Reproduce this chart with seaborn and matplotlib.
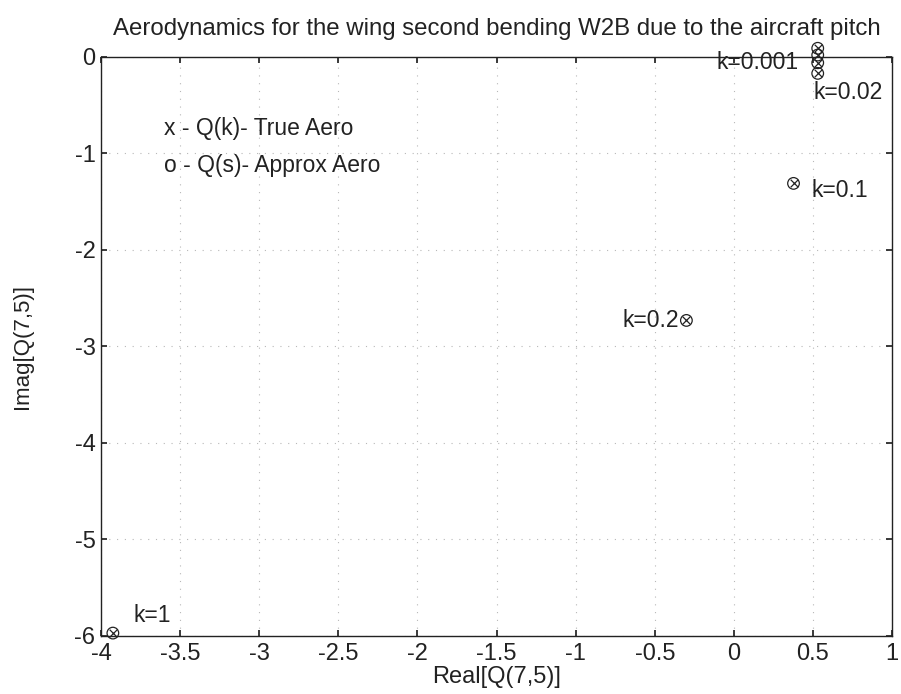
import matplotlib
matplotlib.use("Agg")
import matplotlib.pyplot as plt
import seaborn as sns

# reduced frequencies and Q(7,5) values
k_values = [0.001, 0.01, 0.02, 0.05, 0.1, 0.2, 1.0]
real_true = [0.53, 0.53, 0.53, 0.53, 0.377, -0.30, -3.925]
imag_true = [0.09, 0.02, -0.06, -0.17, -1.31, -2.73, -5.97]
real_approx = [0.53, 0.53, 0.53, 0.53, 0.377, -0.30, -3.925]
imag_approx = [0.09, 0.02, -0.06, -0.17, -1.31, -2.73, -5.97]

# which points get a text label, and offsets (points)
label_idx = [0, 3, 4, 5, 6]
label_text = ["k=0.001", "k=0.02", "k=0.1", "k=0.2", "k=1"]
label_off = [(-14, -10), (-3, -14), (13, -5), (-5, 0), (15, 13)]
label_ha = ["right", "left", "left", "right", "left"]

x_ticks = [-4, -3.5, -3, -2.5, -2, -1.5, -1, -0.5, 0, 0.5, 1]
y_ticks = [0, -1, -2, -3, -4, -5, -6]

sns.set_theme(style="white")
plt.rcParams["font.family"] = ["Liberation Sans", "DejaVu Sans"]

fs = 16.5
fig = plt.figure(figsize=(9.01, 6.94), dpi=100)
ax = fig.add_axes([0.1121, 0.0836, 0.8780, 0.8343])

ink = "#222222"
sns.scatterplot(x=real_true, y=imag_true, ax=ax, marker="x", s=30,
                color=ink, linewidth=0.9, zorder=3, clip_on=False)
sns.scatterplot(x=real_approx, y=imag_approx, ax=ax, marker="o", s=70,
                facecolors="none", edgecolor=ink, linewidth=0.9, zorder=3,
                clip_on=False)

for i, txt, off, ha in zip(label_idx, label_text, label_off, label_ha):
    ax.annotate(txt, (real_true[i], imag_true[i]), xytext=off,
                textcoords="offset points", ha=ha, va="center",
                fontsize=fs, color=ink, annotation_clip=False)

ax.text(-3.6, -0.74, "x - Q(k)- True Aero", fontsize=fs, color=ink, va="center")
ax.text(-3.6, -1.12, "o - Q(s)- Approx Aero", fontsize=fs, color=ink, va="center")

ax.set_xlim(-4, 1)
ax.set_ylim(-6, 0)
ax.set_xticks(x_ticks)
ax.set_xticklabels([f"{t:g}" for t in x_ticks])
ax.set_yticks(y_ticks)
ax.set_yticklabels([f"{t:g}" for t in y_ticks])
ax.tick_params(axis="both", direction="in", length=4, labelsize=17,
               colors=ink, bottom=True, left=True, top=True, right=True)
ax.tick_params(axis="x", pad=5)
ax.tick_params(axis="y", pad=4)
ax.grid(True, linestyle=(0, (1, 6)), color="#b8b8b8", linewidth=0.8)
for sp in ax.spines.values():
    sp.set_color(ink)
    sp.set_linewidth(1.0)

ax.set_xlabel("Real[Q(7,5)]", fontsize=17, color=ink, labelpad=1)
ax.set_ylabel("Imag[Q(7,5)]", fontsize=16, color=ink, labelpad=30)
ax.set_title("Aerodynamics for the wing second bending W2B due to the aircraft pitch",
             fontsize=17.3, color=ink, pad=16)

fig.savefig("out.png", dpi=100)
